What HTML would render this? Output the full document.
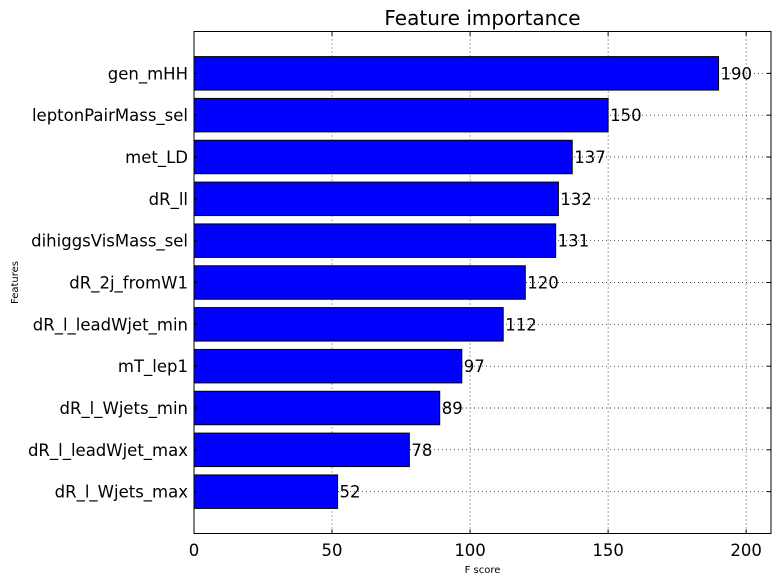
<!DOCTYPE html>
<html><head><meta charset="utf-8"><style>body{margin:0;background:#fff}svg{display:block;font-family:"DejaVu Sans","Liberation Sans",sans-serif}</style></head>
<body>
<svg id="c" width="781" height="584"></svg>
<script>
const features=["gen_mHH","leptonPairMass_sel","met_LD","dR_ll","dihiggsVisMass_sel","dR_2j_fromW1","dR_l_leadWjet_min","mT_lep1","dR_l_Wjets_min","dR_l_leadWjet_max","dR_l_Wjets_max"];
const scores=[190,150,137,132,131,120,112,97,89,78,52];
const xTicks=[0,50,100,150,200];
const L=194,R=771,T=31.5,B=533.5,XMAX=209;
const n=features.length;
const x=v=>L+v/XMAX*(R-L);
const y=i=>T+(i+1)*(B-T)/(n+1);
const bh=0.8*(B-T)/(n+1);
const svg=document.getElementById('c');const NS='http://www.w3.org/2000/svg';
function mk(t,a,txt){const e=document.createElementNS(NS,t);for(const k in a)e.setAttribute(k,a[k]);if(txt!==undefined)e.textContent=txt;svg.appendChild(e);return e;}
xTicks.forEach(t=>{const g=mk('line',{x1:x(t),x2:x(t),y1:T,y2:B,stroke:'#000','stroke-width':0.7,'stroke-dasharray':'1,3'});

});
features.forEach((f,i)=>{const g=mk('line',{x1:L,x2:R,y1:y(i),y2:y(i),stroke:'#000','stroke-width':0.7,'stroke-dasharray':'1,3'});

});
features.forEach((f,i)=>{
const b=mk('rect',{x:L,y:y(i)-bh/2,width:x(scores[i])-L,height:bh,fill:'#0000ff',stroke:'#000','stroke-width':1});


const v=mk('text',{x:x(scores[i])+2,y:y(i)+6,'font-size':16.5},String(scores[i]));


const l=mk('text',{x:L-6,y:y(i)+6,'font-size':16.5,'text-anchor':'end'},f);


mk('line',{x1:L,x2:L+4,y1:y(i),y2:y(i),stroke:'#000'});mk('line',{x1:R-4,x2:R,y1:y(i),y2:y(i),stroke:'#000'});
});
xTicks.forEach(t=>{const l=mk('text',{x:x(t),y:556,'font-size':16.5,'text-anchor':'middle'},String(t));


mk('line',{x1:x(t),x2:x(t),y1:B,y2:B-4,stroke:'#000'});mk('line',{x1:x(t),x2:x(t),y1:T,y2:T+4,stroke:'#000'});});
const fr=mk('rect',{x:L,y:T,width:R-L,height:B-T,fill:'none',stroke:'#000','stroke-width':1});


const tt=mk('text',{x:(L+R)/2,y:25,'font-size':20,'text-anchor':'middle'},'Feature importance');


const xt=mk('text',{x:(L+R)/2,y:573,'font-size':10,'text-anchor':'middle'},'F score');


const yt=mk('text',{x:18,y:(T+B)/2,'font-size':10,'text-anchor':'middle',transform:'rotate(-90 18 '+(T+B)/2+')'},'Features');


</script>
</body></html>
